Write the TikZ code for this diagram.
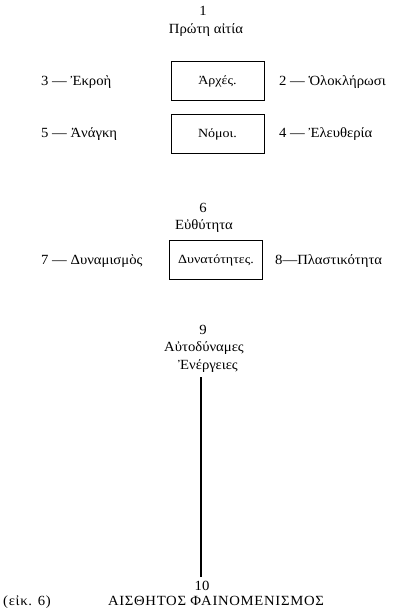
\documentclass[tikz,border=0pt]{standalone}
\usepackage{fontspec}
\setmainfont[FakeStretch=1.05]{Liberation Serif}
\newfontfamily\boxfont[FakeStretch=1.12]{Liberation Serif}
\newfontfamily\spacedfont[FakeStretch=1.05,LetterSpace=5]{Liberation Serif}
\begin{document}
\begin{tikzpicture}[x=1pt,y=-1pt,
  lbl/.style={inner sep=0pt, font=\fontsize{14}{16}\selectfont},
  spc/.style={inner sep=0pt, font=\spacedfont\fontsize{14}{16}\selectfont},
  boxt/.style={draw, line width=0.9pt, inner sep=0pt, minimum width=93pt, minimum height=39pt, font=\boxfont\fontsize{12.5}{14}\selectfont},
  conn/.style={line width=1.2pt}]
\useasboundingbox (0,0) rectangle (395,609);
\node[lbl] (n1) at (203,11) {1};
\node[lbl] (t1) at (206,30) {Πρώτη αἰτία};
\node[boxt] (b1) at (217.5,81) {Ἀρχές.};
\node[boxt] (b2) at (217.5,134) {Νόμοι.};
\node[lbl, anchor=west] (l3) at (41,82) {3 — Ἐκροὴ};
\node[lbl, anchor=west] (l2) at (279,82) {2 — Ὁλοκλήρωσι};
\node[lbl, anchor=west] (l5) at (41,134) {5 — Ἀνάγκη};
\node[lbl, anchor=west] (l4) at (279,134) {4 — Ἐλευθερία};
\node[lbl] (n6) at (203,208) {6};
\node[lbl] (t6) at (204,226) {Εὐθύτητα};
\node[boxt] (b3) at (216,260) {Δυνατότητες.};
\node[lbl, anchor=west] (l7) at (41,261) {7 — Δυναμισμὸς};
\node[lbl, anchor=west] (l8) at (275,261) {8—Πλαστικότητα};
\node[lbl] (n9) at (203,330) {9};
\node[lbl] (t9a) at (204,348) {Αὐτοδύναμες};
\node[lbl] (t9b) at (208,366) {Ἐνέργειες};
\node[lbl] (n10) at (202,585.5) {10};
\node[spc, anchor=base west] (fig) at (3,605) {(εἰκ. 6)};
\node[spc, anchor=base] (title) at (216,605) {ΑΙΣΘΗΤΟΣ ΦΑΙΝΟΜΕΝΙΣΜΟΣ};
\coordinate (ls) at (201,377);
\coordinate (le) at (201,577);
\draw[conn] (ls) -- (le);
\end{tikzpicture}
\end{document}
